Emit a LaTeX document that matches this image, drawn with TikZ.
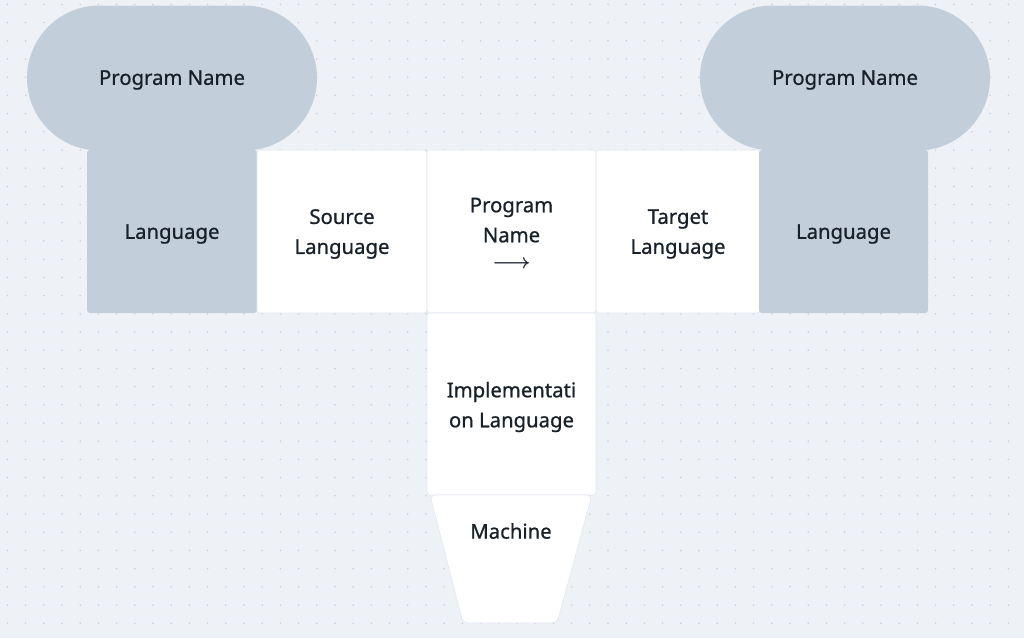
\documentclass[tikz,border=0pt]{standalone}
\usepackage{fontspec}
\setmainfont{Noto Sans}
\newfontfamily\medfont{Noto Sans}[FakeBold=0.8]
\usetikzlibrary{shapes.misc}
\definecolor{bgc}{HTML}{EEF2F6}
\definecolor{dotc}{HTML}{C4CDD8}
\definecolor{slate}{HTML}{C2CED9}
\definecolor{ink}{HTML}{18202A}
\definecolor{edgec}{HTML}{E3E8EE}
\tikzset{
  txt/.style={text=ink, font=\medfont\fontsize{20.3}{30}\selectfont, align=center},
  pill/.style={rounded rectangle, fill=slate, minimum width=290pt, minimum height=145pt, inner sep=0pt},
  slatebox/.style={rectangle, rounded corners=3pt, fill=slate, minimum width=170pt, minimum height=163pt, inner sep=0pt},
  whitebox/.style={rectangle, rounded corners=3pt, fill=white, draw=edgec, line width=0.6pt, minimum width=169pt, minimum height=163pt, inner sep=0pt},
}
\begin{document}
\begin{tikzpicture}[x=1pt,y=-1pt]
\fill[bgc] (0,0) rectangle (1024,638);
\useasboundingbox (0,0) rectangle (1024,638);
\foreach \i in {0,...,56} {
  \foreach \j in {0,...,35} {
    \fill[dotc] (7.4+18.2*\i, 4.4+18.2*\j) circle (0.85pt);
  }
}
% row of boxes
\node[slatebox] (langL) at (172,231.5) {};
\node[whitebox, minimum width=170pt] (src) at (342,231.5) {};
\node[whitebox] (prog) at (511.5,231.5) {};
\node[whitebox, minimum width=164pt] (tgt) at (678,231.5) {};
\node[slatebox, minimum width=169pt] (langR) at (843.5,231.5) {};
\node[txt] (langLt) at (172,234) {Language};
\node[txt] (srct) at (342,234) {Source\\Language};
\node[txt] (progt) at (511.5,233) {Program\\Name\\[-4pt]{\boldmath$\longrightarrow$}};
\node[txt] (tgtt) at (678,234) {Target\\Language};
\node[txt] (langRt) at (843.5,234) {Language};
% pills
\node[pill] (pnL) at (172,78) {};
\node[pill] (pnR) at (845,78) {};
\node[txt] (pnLt) at (172,80) {Program Name};
\node[txt] (pnRt) at (845,80) {Program Name};
% implementation
\node[whitebox, minimum height=182pt] (impl) at (511.5,404) {};
\node[txt] (implt) at (511.5,407) {Implementati\\on Language};
% machine trapezoid
\filldraw[fill=white, draw=edgec, line width=0.6pt, rounded corners=5pt] (430,495) -- (592,495) -- (557,623) -- (463,623) -- cycle;
\node[txt] (mach) at (511,531) {Machine};
\end{tikzpicture}
\end{document}
